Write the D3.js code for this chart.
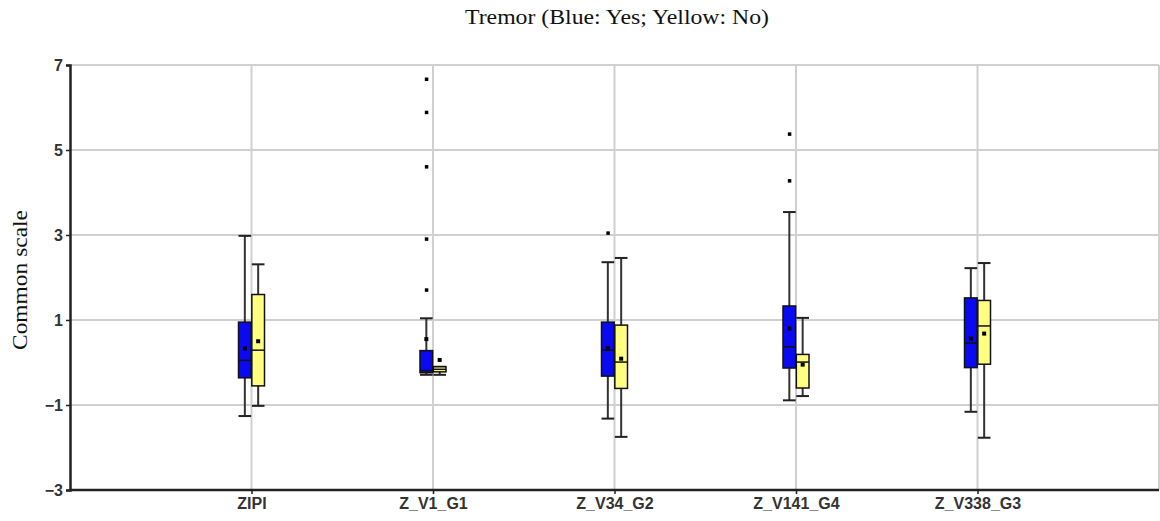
<!DOCTYPE html>
<html>
<head>
<meta charset="utf-8">
<script src="https://cdn.jsdelivr.net/npm/d3@7.9.0/dist/d3.min.js"></script>
<style>
  body { margin: 0; background: #fff; }
  svg { display: block; }
  .tick text { font-family: "Liberation Sans Narrow", "Arial Narrow", "Liberation Sans", sans-serif; font-size: 16px; font-weight: bold; fill: #333; }
</style>
</head>
<body>
<svg width="1160" height="521"></svg>
<script>
const categories = ["ZIPI", "Z_V1_G1", "Z_V34_G2", "Z_V141_G4", "Z_V338_G3"];
const yTicks = [-3, -1, 1, 3, 5, 7];

// Blue: Tremor = Yes
const yesMin  = [-1.26, -0.29, -1.32, -0.89, -1.16];
const yesQ1   = [-0.36, -0.24, -0.32, -0.13, -0.12];
const yesMed  = [0.05, -0.19, 0.29, 0.37, 0.46];
const yesQ3   = [0.95, 0.28, 0.95, 1.33, 1.52];
const yesMax  = [2.98, 1.04, 2.36, 3.54, 2.22];
const yesMean = [0.33, 0.55, 0.34, 0.80, 0.56];
const yesOut  = [[], [6.67, 5.89, 4.61, 2.91, 1.71], [3.05], [5.38, 4.28], []];

// Yellow: Tremor = No
const noMin  = [-1.02, -0.29, -1.75, -0.79, -1.77];
const noQ1   = [-0.55, -0.22, -0.61, -0.60, -0.04];
const noMed  = [0.29, -0.16, 0.01, 0.01, 0.86];
const noQ3   = [1.60, -0.10, 0.88, 0.19, 1.46];
const noMax  = [2.31, -0.10, 2.46, 1.05, 2.34];
const noMean = [0.50, 0.06, 0.09, -0.05, 0.68];
const noOut  = [[], [], [], [], []];

const groups = [
  { key: "Yes", fill: "#0a0af2", min: yesMin, q1: yesQ1, med: yesMed, q3: yesQ3, max: yesMax, mean: yesMean, out: yesOut },
  { key: "No", fill: "#ffff80", min: noMin, q1: noQ1, med: noMed, q3: noQ3, max: noMax, mean: noMean, out: noOut }
];

const svg = d3.select("svg");

const x = d3.scaleLinear().domain([0, 6]).range([70, 1159]);
const y = d3.scaleLinear().domain([-3, 7]).range([490, 65]);
const sub = d3.scaleBand().domain(groups.map(g => g.key)).range([-13, 13]).paddingInner(0.05);

// grid
svg.append("g").selectAll("line").data(yTicks.filter(t => t > -3)).join("line")
  .attr("x1", x(0)).attr("x2", x(6))
  .attr("y1", d => y(d)).attr("y2", d => y(d))
  .attr("stroke", "#d0d0d0").attr("stroke-width", 2);
svg.append("g").selectAll("line").data(d3.range(1, 7)).join("line")
  .attr("x1", d => x(d)).attr("x2", d => x(d))
  .attr("y1", y(7)).attr("y2", y(-3))
  .attr("stroke", "#d0d0d0").attr("stroke-width", 2);

// axes
const yAxis = svg.append("g").attr("transform", `translate(${x(0)},0)`)
  .call(d3.axisLeft(y).tickValues(yTicks).tickSize(4).tickPadding(3));
const xAxis = svg.append("g").attr("transform", `translate(0,${y(-3)})`)
  .call(d3.axisBottom(x).tickValues(d3.range(1, 6)).tickFormat(i => categories[i - 1]).tickSize(4).tickPadding(4));
[yAxis, xAxis].forEach(a => {
  a.select(".domain").attr("stroke", "#222").attr("stroke-width", 2.5);
  a.selectAll(".tick line").attr("stroke", "#222").attr("stroke-width", 1.5);
});
xAxis.select(".domain").attr("d", `M${x(0)},0H${x(6)}`);

// boxes
groups.forEach(g => {
  const bw = sub.bandwidth();
  const layer = svg.append("g");
  categories.forEach((c, i) => {
    const x0 = x(i + 1) + sub(g.key);
    const cx = x0 + bw / 2;
    // whisker
    layer.append("line").attr("x1", cx).attr("x2", cx)
      .attr("y1", y(g.max[i])).attr("y2", y(g.min[i]))
      .attr("stroke", "#333").attr("stroke-width", 2);
    [g.max[i], g.min[i]].forEach(v => {
      layer.append("line").attr("x1", x0).attr("x2", x0 + bw)
        .attr("y1", y(v)).attr("y2", y(v))
        .attr("stroke", "#222").attr("stroke-width", 2);
    });
    // box
    layer.append("rect").attr("x", x0).attr("width", bw)
      .attr("y", y(g.q3[i])).attr("height", Math.max(y(g.q1[i]) - y(g.q3[i]), 1))
      .attr("fill", g.fill).attr("stroke", "#111").attr("stroke-width", 1.5);
    layer.append("line").attr("x1", x0).attr("x2", x0 + bw)
      .attr("y1", y(g.med[i])).attr("y2", y(g.med[i]))
      .attr("stroke", "#111").attr("stroke-width", 1.5);
    // mean
    layer.append("rect").attr("x", cx - 2).attr("y", y(g.mean[i]) - 2)
      .attr("width", 4).attr("height", 4).attr("fill", "#000");
    // outliers
    g.out[i].forEach(v => {
      layer.append("rect").attr("x", cx - 1.5).attr("y", y(v) - 1.5)
        .attr("width", 3.5).attr("height", 3.5).attr("fill", "#000");
    });
  });
});

// titles
svg.append("text").attr("x", 617).attr("y", 24).attr("text-anchor", "middle")
  .attr("font-family", "Liberation Serif, Times New Roman, serif").attr("font-size", 20)
  .attr("textLength", 304).attr("lengthAdjust", "spacingAndGlyphs")
  .attr("fill", "#111").text("Tremor (Blue: Yes; Yellow: No)");
svg.append("text").attr("transform", "translate(27,280) rotate(-90)").attr("text-anchor", "middle")
  .attr("font-family", "Liberation Serif, Times New Roman, serif").attr("font-size", 20)
  .attr("textLength", 140).attr("lengthAdjust", "spacingAndGlyphs")
  .attr("fill", "#111").text("Common scale");
</script>
</body>
</html>
